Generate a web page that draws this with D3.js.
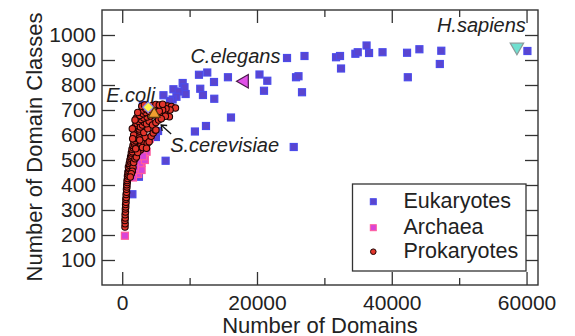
<!DOCTYPE html>
<html>
<head>
<meta charset="utf-8">
<script src="https://cdn.jsdelivr.net/npm/d3@7"></script>
<style>
  body { margin: 0; background: #fff; }
  svg text { font-family: "Liberation Sans", Arial, Helvetica, sans-serif; fill: #222; }
</style>
</head>
<body>
<svg id="chart" width="575" height="336"></svg>
<script>
// data
const xMajorTicks = [0, 20000, 40000, 60000]
const xMinorTicks = [10000, 30000, 50000]
const yTicks = [100, 200, 300, 400, 500, 600, 700, 800, 900, 1000]

const eukaryotes = [
  [24455,908],[27050,916],[31730,911],[32320,916],[32470,866],[34600,925],[34950,931],
  [36260,958],[36630,928],[38630,931],[42270,929],[44100,943],[42380,831],[47350,937],
  [47130,884],[60130,936],[11390,841],[12620,850],[13620,812],[15690,831],[20370,842],
  [21530,817],[21040,777],[25790,831],[26160,835],[26680,771],[11580,785],[11980,760],
  [13660,745],[8970,808],[9240,791],[9410,764],[7600,783],[8370,774],[8050,753],
  [7480,742],[6120,759],[7080,736],[16140,670],[12430,636],[10790,614],[25450,552],
  [6440,497],[5000,592],[5320,616],[2400,442],[1510,363],[3070,720],[2480,433]
]

const archaea = [
  [400,197],[2380,444],[2140,460],[2880,460],[2880,489],[2630,487],[3370,500],
  [3620,533],[1900,470],[3100,515],[1600,430],[4100,585]
]

const prokaryotes = [
  [410,232],[430,245],[400,258],[450,268],[430,281],[480,292],[470,304],[520,312],
  [500,322],[560,331],[540,343],[600,350],[580,362],[650,371],[630,383],[700,392],
  [680,401],[750,410],[720,418],[800,426],[780,436],[880,442],[850,452],[950,458],
  [1000,466],[920,472],[1100,478],[1050,486],[1200,492],[1150,500],[1300,505],
  [1250,513],[1400,518],[1600,470],[1500,455],[1350,445],[1200,432],[1700,490],
  [1900,505],[2100,512],[1350,528],[1500,533],[1450,543],[1650,548],[1600,558],
  [1800,563],[1750,572],[2000,577],[1900,586],[2200,590],[2100,598],[2400,603],
  [2300,612],[2600,616],[2500,624],[2800,560],[3100,575],[3400,590],[3700,565],
  [4000,573],[4300,595],[4600,608],[4900,620],[2700,540],[3000,550],[2300,530],
  [3600,547],[2000,545],[2600,580],[3200,610],[3800,625],[1700,600],[1550,585],
  [1800,630],[2000,638],[2200,645],[2700,632],[3000,640],[3300,650],[3600,645],
  [4000,655],[4500,640],[5000,650],[5400,660],[2400,655],[2800,662],[3200,668],
  [3700,672],[4200,676],[4800,680],[5300,685],[5800,690],[6300,695],[2100,668],
  [2600,678],[3100,685],[3500,690],[4000,695],[4400,700],[5000,704],[5600,708],
  [6100,712],[6700,716],[7300,714],[7900,708],[7100,700],[6500,705],[6000,700],
  [5500,695],[3000,700],[3500,705],[4000,712],[4500,718],[5000,722],[5500,720],
  [6000,723],[7000,673],[5000,620],[2900,715],[3300,720],[6400,675],[5800,665],
  [1500,625],[1900,660],[2300,690]
]

const specialNames = ["E.coli", "S.cerevisiae", "C.elegans", "H.sapiens"]
const specialX = [3860, 4740, 18130, 58570]
const specialY = [711, 684, 815, 952]

const legendLabels = ["Eukaryotes", "Archaea", "Prokaryotes"]

const svg = d3.select("#chart")
const pLeft = 102, pRight = 538, pTop = 10, pBottom = 285

const x = d3.scaleLinear().domain([-3000, 61700]).range([pLeft, pRight])
const y = d3.scaleLinear().domain([0, 1100]).range([pBottom, pTop])

const tickColor = "#333"

// bottom axis, ticks pointing in
svg.append("g")
  .attr("transform", `translate(0,${pBottom})`)
  .call(d3.axisBottom(x).tickValues(xMajorTicks).tickSize(-13).tickPadding(10).tickFormat(d3.format("d")))
  .call(g => g.select(".domain").remove())
  .call(g => g.selectAll("text").attr("font-size", 21).attr("font-family", null))
svg.append("g")
  .attr("transform", `translate(0,${pBottom})`)
  .call(d3.axisBottom(x).tickValues(xMinorTicks).tickSize(-7).tickFormat(""))
  .call(g => g.select(".domain").remove())

// top axis (no labels)
svg.append("g")
  .attr("transform", `translate(0,${pTop})`)
  .call(d3.axisTop(x).tickValues(xMajorTicks).tickSize(-13).tickFormat(""))
  .call(g => g.select(".domain").remove())
svg.append("g")
  .attr("transform", `translate(0,${pTop})`)
  .call(d3.axisTop(x).tickValues(xMinorTicks).tickSize(-7).tickFormat(""))
  .call(g => g.select(".domain").remove())

// left and right axes
svg.append("g")
  .attr("transform", `translate(${pLeft},0)`)
  .call(d3.axisLeft(y).tickValues(yTicks).tickSize(-13).tickPadding(6).tickFormat(d3.format("d")))
  .call(g => g.select(".domain").remove())
  .call(g => g.selectAll("text").attr("font-size", 21).attr("font-family", null))
svg.append("g")
  .attr("transform", `translate(${pRight},0)`)
  .call(d3.axisRight(y).tickValues(yTicks).tickSize(-13).tickFormat(""))
  .call(g => g.select(".domain").remove())

svg.selectAll(".tick line").attr("stroke", tickColor).attr("stroke-width", 1.3)

// points
const sq = 7
svg.append("g").selectAll("rect")
  .data(eukaryotes)
  .join("rect")
  .attr("x", d => x(d[0]) - sq / 2)
  .attr("y", d => y(d[1]) - sq / 2)
  .attr("width", sq).attr("height", sq)
  .attr("fill", "#5a45cf")
  .attr("stroke", "#4b4bea")
  .attr("stroke-width", 1.2)

svg.append("g").selectAll("rect")
  .data(archaea)
  .join("rect")
  .attr("x", d => x(d[0]) - sq / 2)
  .attr("y", d => y(d[1]) - sq / 2)
  .attr("width", sq).attr("height", sq)
  .attr("fill", "#d844d8")
  .attr("stroke", "#ff5c9c")
  .attr("stroke-width", 1.2)

svg.append("g").selectAll("circle")
  .data(prokaryotes)
  .join("circle")
  .attr("cx", d => x(d[0]))
  .attr("cy", d => y(d[1]))
  .attr("r", 3.2)
  .attr("fill", "#e2362c")
  .attr("stroke", "#1e0303")
  .attr("stroke-width", 1.1)

// highlighted organisms
const special = specialNames.map((n, i) => ({ name: n, x: specialX[i], y: specialY[i] }))
const sym = (type, size) => d3.symbol().type(type).size(size)()
const specialStyle = {
  "E.coli":       { path: sym(d3.symbolSquare, 58), rot: 45, fill: "#fff34a", stroke: "#8a8af0" },
  "S.cerevisiae": { path: sym(d3.symbolTriangle, 62), rot: 0, fill: "#f0a030", stroke: "#5a3a10" },
  "C.elegans":    { path: sym(d3.symbolTriangle, 80), rot: -90, fill: "#e050e8", stroke: "#4a1a4a" },
  "H.sapiens":    { path: sym(d3.symbolTriangle, 78), rot: 180, fill: "#70e0d0", stroke: "#8a9a9a" }
}
svg.append("g").selectAll("path")
  .data(special)
  .join("path")
  .attr("d", d => specialStyle[d.name].path)
  .attr("transform", d => `translate(${x(d.x)},${y(d.y)}) rotate(${specialStyle[d.name].rot})`)
  .attr("fill", d => specialStyle[d.name].fill)
  .attr("stroke", d => specialStyle[d.name].stroke)
  .attr("stroke-width", 1.2)

// labels for the highlighted organisms
const labelOffset = {
  "E.coli": [-42, -5],
  "S.cerevisiae": [16, 38],
  "C.elegans": [-54, -18],
  "H.sapiens": [-80, -15]
}
svg.append("g").selectAll("text")
  .data(special)
  .join("text")
  .attr("x", d => x(d.x) + labelOffset[d.name][0])
  .attr("y", d => y(d.y) + labelOffset[d.name][1])
  .attr("font-size", 20)
  .attr("font-style", "italic")
  .text(d => d.name)

// arrow to S.cerevisiae
const sc = special[1]
const ax1 = x(sc.x) + 17, ay1 = y(sc.y) + 20, ax2 = x(sc.x) + 7, ay2 = y(sc.y) + 11
svg.append("line")
  .attr("x1", ax1).attr("y1", ay1).attr("x2", ax2).attr("y2", ay2)
  .attr("stroke", "#111").attr("stroke-width", 1.3)
svg.append("path")
  .attr("d", `M${ax2 + 6},${ay2 + 0.5} L${ax2},${ay2} L${ax2 + 1},${ay2 + 6}`)
  .attr("fill", "none").attr("stroke", "#111").attr("stroke-width", 1.3)

// frame
svg.append("rect")
  .attr("x", pLeft).attr("y", pTop)
  .attr("width", pRight - pLeft).attr("height", pBottom - pTop)
  .attr("fill", "none").attr("stroke", tickColor).attr("stroke-width", 1.4)

// legend
const legend = svg.append("g")
legend.append("rect")
  .attr("x", 352.5).attr("y", 184)
  .attr("width", 173.5).attr("height", 87)
  .attr("fill", "#fff").attr("stroke", tickColor).attr("stroke-width", 1.3)
const legY = [201.7, 227.7, 251.7]
legend.append("rect")
  .attr("x", 370.3).attr("y", legY[0] - 3).attr("width", 6).attr("height", 6)
  .attr("fill", "#5a45cf").attr("stroke", "#4b4bea")
legend.append("rect")
  .attr("x", 370.3).attr("y", legY[1] - 3).attr("width", 6).attr("height", 6)
  .attr("fill", "#d844d8").attr("stroke", "#ff5c9c")
legend.append("circle")
  .attr("cx", 373.3).attr("cy", legY[2]).attr("r", 2.8)
  .attr("fill", "#e2362c").attr("stroke", "#1e0303")
legend.selectAll("text")
  .data(legendLabels)
  .join("text")
  .attr("x", 403.5)
  .attr("y", (d, i) => legY[i] + 6.5)
  .attr("font-size", 21.5)
  .text(d => d)

// axis titles
svg.append("text")
  .attr("x", (pLeft + pRight) / 2).attr("y", 332.5)
  .attr("text-anchor", "middle").attr("font-size", 22)
  .text("Number of Domains")
svg.append("text")
  .attr("transform", "translate(41.5,147) rotate(-90)")
  .attr("text-anchor", "middle").attr("font-size", 22)
  .text("Number of Domain Classes")
</script>
</body>
</html>
